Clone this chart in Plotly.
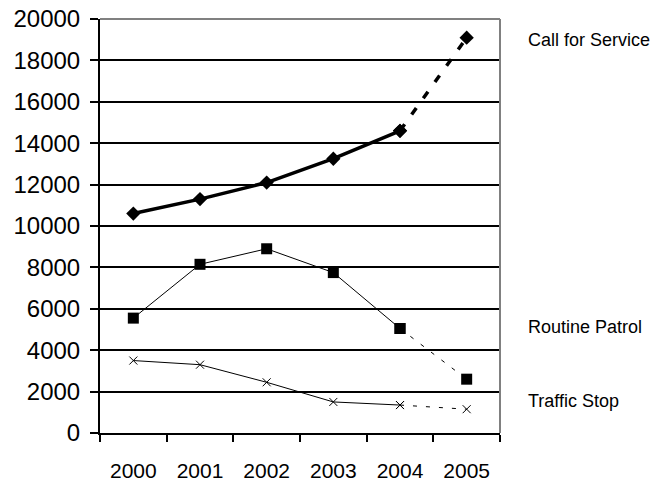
import plotly.graph_objects as go

years = ["2000", "2001", "2002", "2003", "2004", "2005"]
call_for_service = [10600, 11300, 12100, 13250, 14600, 19100]
routine_patrol = [5550, 8150, 8900, 7750, 5050, 2600]
traffic_stop = [3500, 3300, 2450, 1500, 1350, 1150]
series_names = ["Call for Service", "Routine Patrol", "Traffic Stop"]
y_ticks = [0, 2000, 4000, 6000, 8000, 10000, 12000, 14000, 16000, 18000, 20000]

FONT = "Liberation Sans"
fig = go.Figure()

specs = [
    (call_for_service, 3.5, dict(symbol="diamond", size=11, color="black")),
    (routine_patrol, 1, dict(symbol="square", size=11, color="black")),
    (traffic_stop, 1, dict(symbol="x-thin", size=8, color="black", line=dict(width=1, color="black"))),
]
for vals, w, mk in specs:
    fig.add_trace(go.Scatter(x=years[:5], y=vals[:5], mode="lines+markers",
                             line=dict(color="black", width=w), marker=mk, showlegend=False))
    fig.add_trace(go.Scatter(x=years[4:], y=vals[4:], mode="lines+markers",
                             line=dict(color="black", width=w, dash="8px,12px" if w > 1 else "4px,9px"),
                             marker=mk, showlegend=False))

label_y = [0.949, 0.256, 0.077]
for name, yy in zip(series_names, label_y):
    fig.add_annotation(text=name, xref="paper", yref="paper", x=1.064, y=yy,
                       xanchor="left", yanchor="middle", showarrow=False,
                       font=dict(family=FONT, size=18, color="black"))

fig.update_xaxes(type="category", range=[-0.5, 5.5], tickson="boundaries",
                 ticks="outside", ticklen=7, tickcolor="black", tickwidth=2, showgrid=False,
                 showline=True, linecolor="black", linewidth=2, ticklabelstandoff=18,
                 mirror=False, automargin=False,
                 tickfont=dict(family=FONT, size=21, color="black"))
fig.update_yaxes(range=[0, 20000], tickvals=y_ticks, tickformat="d", ticks="outside", ticklen=8,
                 tickcolor="black", tickwidth=2, showgrid=True, gridcolor="black", gridwidth=2,
                 showline=True, linecolor="black", linewidth=2, zeroline=False,
                 ticklabelstandoff=5, automargin=False, ticklabeloverflow="allow",
                 tickfont=dict(family=FONT, size=24, color="black"))

# gray right border and top
fig.add_shape(type="line", xref="paper", yref="paper", x0=1, x1=1, y0=0, y1=1,
              line=dict(color="gray", width=2))
fig.add_shape(type="line", xref="paper", yref="paper", x0=0, x1=1, y0=1, y1=1,
              line=dict(color="gray", width=2))

fig.update_layout(width=655, height=483, margin=dict(l=100, r=155, t=19, b=50),
                  plot_bgcolor="white", paper_bgcolor="white")
fig.write_html("out.html", config={"displayModeBar": False},
               post_script="document.body.style.margin='0';document.body.style.overflow='hidden';")
